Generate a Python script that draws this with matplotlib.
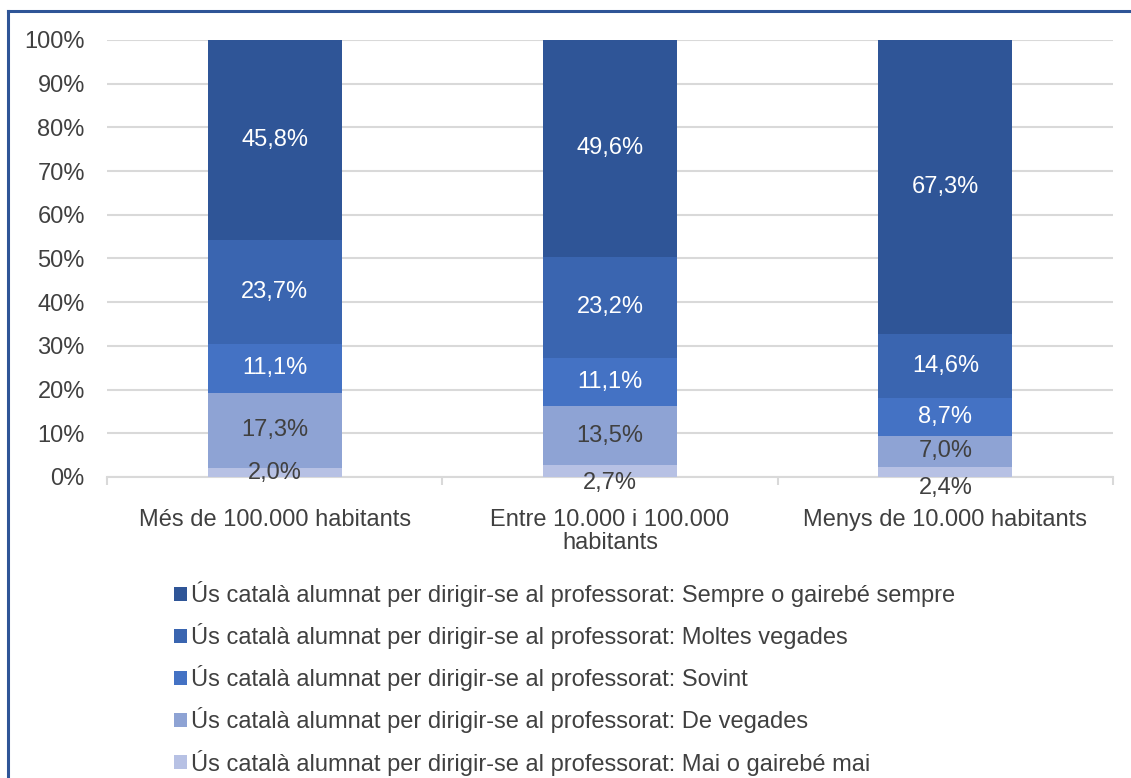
import matplotlib.pyplot as plt
from matplotlib.lines import Line2D
from matplotlib.ticker import FixedLocator, PercentFormatter

plt.rcParams['font.family'] = ['Liberation Sans', 'DejaVu Sans']

categories = ['Més de 100.000 habitants', 'Entre 10.000 i 100.000\nhabitants',
              'Menys de 10.000 habitants']
prefix = 'Ús català alumnat per dirigir-se al professorat: '
series_names = ['Mai o gairebé mai', 'De vegades', 'Sovint', 'Moltes vegades',
                'Sempre o gairebé sempre']
mai = [2.0, 2.7, 2.4]
de_vegades = [17.3, 13.5, 7.0]
sovint = [11.1, 11.1, 8.7]
moltes = [23.7, 23.2, 14.6]
sempre = [45.8, 49.6, 67.3]
valors = [mai, de_vegades, sovint, moltes, sempre]

colors = ['#B7C1E4', '#8EA3D4', '#4472C4', '#3A65B0', '#2F5597']
text_colors = ['#404040', '#404040', 'white', 'white', 'white']
# desplaçament manual (px) de les etiquetes de la sèrie inferior
mai_offset = [0, -12, -16]
fs = 17

fig = plt.figure(figsize=(11.31, 7.78), dpi=100)
ax = fig.add_axes([0.0946, 0.3869, 0.8895, 0.5617])

x = list(range(len(categories)))
totals = [sum(v[i] for v in valors) for i in x]
bottom = [0.0] * len(x)
bars = []
for s, vals in enumerate(valors):
    h = [vals[i] / totals[i] * 100 for i in x]
    b = ax.bar(x, h, 0.4, bottom=bottom, color=colors[s], zorder=3,
               label=prefix + series_names[s])
    bars.append(b)
    for i in x:
        off = mai_offset[i] if s == 0 else 0
        ax.annotate(f'{vals[i]:.1f}%'.replace('.', ','),
                    (i, bottom[i] + h[i] / 2), xytext=(0, off),
                    textcoords='offset pixels', ha='center', va='center',
                    fontsize=fs, color=text_colors[s], zorder=4)
    bottom = [bottom[i] + h[i] for i in x]

ax.set_xlim(-0.5, 2.5)
ax.set_ylim(0, 100)
ax.set_yticks(range(0, 101, 10))
ax.yaxis.set_major_formatter(PercentFormatter(decimals=0))
ax.grid(axis='y', color='#D9D9D9', linewidth=1.5, zorder=0)
for sp in ['top', 'right', 'left']:
    ax.spines[sp].set_visible(False)
ax.spines['bottom'].set_color('#D9D9D9')
ax.spines['bottom'].set_linewidth(1.5)
ax.set_xticks(x)
ax.set_xticklabels(categories, fontsize=fs, color='#404040', linespacing=1.05)
ax.tick_params(axis='x', which='major', length=0, pad=23)
ax.xaxis.set_minor_locator(FixedLocator([-0.5, 0.5, 1.5, 2.5]))
ax.tick_params(axis='x', which='minor', length=6, width=1.5, color='#D9D9D9')
ax.tick_params(axis='y', length=0, labelsize=fs, labelcolor='#404040', pad=16)

handles = bars[::-1]
leg = fig.legend(handles, [h.get_label() for h in handles], loc='upper left',
                 bbox_to_anchor=(0.143, 0.268), frameon=False, fontsize=fs,
                 handlelength=0.55, handleheight=0.55, handletextpad=0.2,
                 labelspacing=0.68, borderpad=0)
for t in leg.get_texts():
    t.set_color('#404040')

# marc del gràfic (només es veu a l'esquerra i a dalt)
fig.add_artist(Line2D([0.0071, 0.0071], [0, 0.986], color='#2F5597', linewidth=2.2))
fig.add_artist(Line2D([0.0071, 1], [0.986, 0.986], color='#2F5597', linewidth=2.2))

fig.savefig('out.png', dpi=100)
